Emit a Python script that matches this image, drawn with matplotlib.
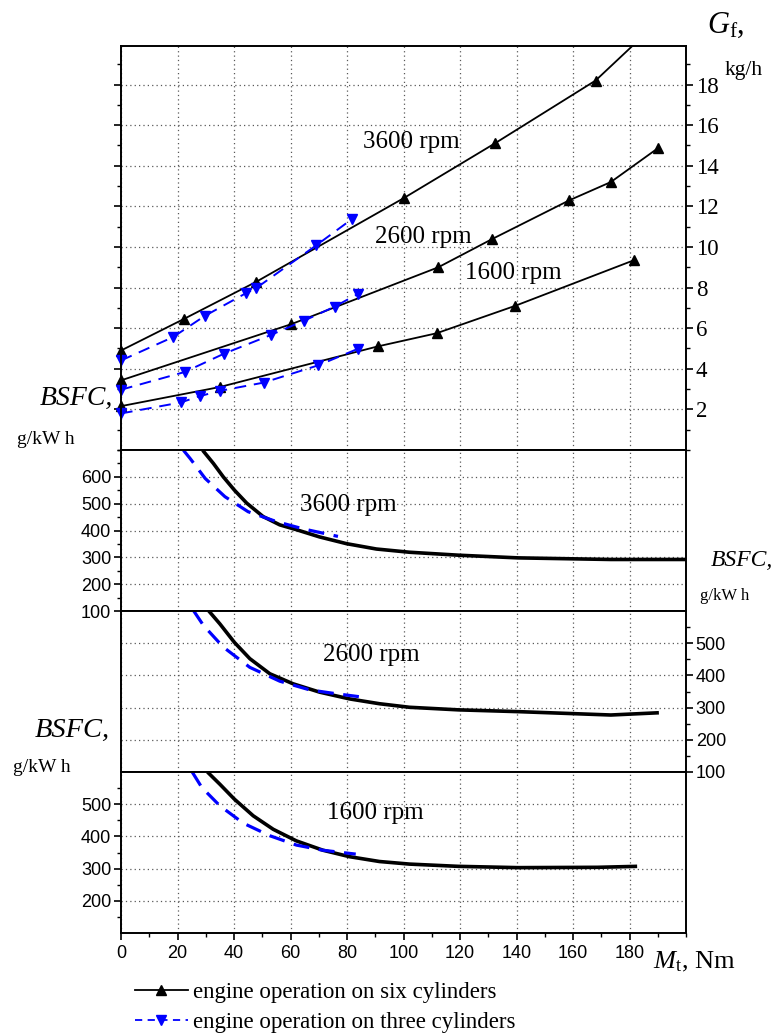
import matplotlib
matplotlib.use("Agg")
import matplotlib.pyplot as plt
from matplotlib.lines import Line2D
from matplotlib.ticker import MultipleLocator, FixedLocator

plt.rcParams['mathtext.fontset'] = 'custom'
plt.rcParams['mathtext.rm'] = 'Liberation Serif'
plt.rcParams['mathtext.it'] = 'Liberation Serif:italic'

SERIF = 'Liberation Serif'
SANS = 'Liberation Sans'

# ---------------- Fuel consumption Gf (kg/h) ----------------
# six cylinders
gf6_3600_x = [0, 22.2, 47.8, 100, 132.3, 168]
gf6_3600_y = [4.9, 6.45, 8.28, 12.4, 15.1, 18.2]
gf6_3600_end_x = [168, 181]          # curve continues past last point
gf6_3600_end_y = [18.2, 19.9]

gf6_2600_x = [0, 60.3, 112.3, 131.5, 158.7, 173.4, 190.1]
gf6_2600_y = [3.43, 6.2, 9.0, 10.4, 12.3, 13.2, 14.87]

gf6_1600_x = [0, 34.9, 90.8, 111.7, 139.5, 181.6]
gf6_1600_y = [2.16, 3.1, 5.1, 5.75, 7.1, 9.35]

# three cylinders
gf3_3600_x = [0, 18.4, 29.6, 44.3, 47.8, 69.1, 81.6]
gf3_3600_y = [4.41, 5.56, 6.6, 7.73, 7.97, 10.08, 11.36]

gf3_2600_x = [0, 22.5, 36.4, 53.1, 64.8, 75.6, 83.8]
gf3_2600_y = [2.97, 3.84, 4.74, 5.67, 6.37, 7.06, 7.68]

gf3_1600_x = [0, 21.1, 27.8, 34.9, 50.5, 69.8, 83.8]
gf3_1600_y = [1.8, 2.34, 2.65, 2.91, 3.32, 4.17, 4.98]

# ---------------- BSFC (g/kW h) ----------------
b6_3600_x = [28.9, 32.7, 36.2, 40.1, 44.5, 50.3, 56.2, 62.1, 70.3, 79.8, 90.4, 102.1, 119.4, 140.5, 173.4, 200]
b6_3600_y = [699, 650, 600, 551, 502, 452, 421, 403, 376, 351, 331, 319, 308, 298, 292, 292]
b3_3600_x = [22.1, 24.5, 29.8, 36.8, 45.0, 55.1, 64.5, 76.8]
b3_3600_y = [699, 668, 594, 526, 470, 433, 406, 378]

b6_2600_x = [30.9, 35.0, 40.1, 45.6, 52.7, 60.9, 70.3, 80.9, 91.5, 102.1, 119.4, 140.5, 173.4, 190.4]
b6_2600_y = [602, 560, 503, 452, 405, 374, 348, 327, 312, 301, 293, 287.5, 277, 284]
b3_2600_x = [25.6, 29.2, 36.2, 45.6, 56.2, 66.8, 76.2, 84.2]
b3_2600_y = [602, 555, 488, 425, 382, 355, 343, 334]

b6_1600_x = [30.6, 35.0, 40.1, 46.8, 53.9, 62.1, 71.5, 80.9, 91.5, 102.1, 119.4, 140.5, 168.7, 182.7]
b6_1600_y = [600, 562, 516, 464, 422, 386, 357, 337, 322, 314, 307, 303, 304, 307]
b3_1600_x = [25.2, 28.6, 35.0, 43.3, 52.7, 62.1, 71.5, 83.1]
b3_1600_y = [600, 552, 495, 441, 402, 373, 357, 345]

x_ticks = [0, 20, 40, 60, 80, 100, 120, 140, 160, 180]
gf_ticks = [2, 4, 6, 8, 10, 12, 14, 16, 18]

W, H = 780, 1034
fig = plt.figure(figsize=(W / 100, H / 100), dpi=100)

def rect(top_px, bot_px):
    return [121 / W, 1 - bot_px / H, (686 - 121) / W, (bot_px - top_px) / H]

ax1 = fig.add_axes(rect(46, 450))
ax2 = fig.add_axes(rect(450, 611))
ax3 = fig.add_axes(rect(611, 772))
ax4 = fig.add_axes(rect(772, 933))

BLUE = '#0000ff'
grid_kw = dict(color='0.35', linestyle=(0, (1, 2.5)), linewidth=0.9)

for ax in (ax1, ax2, ax3, ax4):
    ax.set_xlim(0, 200)
    for s in ax.spines.values():
        s.set_linewidth(1.4)
    ax.xaxis.set_major_locator(FixedLocator(x_ticks))
    ax.xaxis.set_minor_locator(MultipleLocator(10))
    ax.grid(True, which='major', **grid_kw)
    ax.set_axisbelow(True)
    ax.tick_params(which='major', length=5, width=1.2, direction='out')
    ax.tick_params(which='minor', length=3, width=1.0, direction='out')
    ax.tick_params(axis='x', which='both', bottom=False, top=False, labelbottom=False)

# ---- top panel
ax1.set_ylim(0, 19.9)
ax1.yaxis.set_major_locator(FixedLocator(gf_ticks))
ax1.yaxis.set_minor_locator(MultipleLocator(1))
ax1.tick_params(axis='y', which='both', left=True, right=True, labelleft=False, labelright=True)
ax1.tick_params(axis='y', which='major', pad=2)
for t in ax1.get_yticklabels():
    t.set_fontfamily(SERIF)
    t.set_fontsize(16.5)

mk6 = dict(color='black', lw=1.3, marker='^', ms=7, mfc='black', mec='black')
mk3 = dict(color=BLUE, lw=1.4, ls=(0, (6, 4)), marker='v', ms=7, mfc=BLUE, mec=BLUE)

ax1.plot(gf6_3600_end_x, gf6_3600_end_y, color='black', lw=1.3, clip_on=True)
ax1.plot(gf6_3600_x, gf6_3600_y, clip_on=False, **mk6)
ax1.plot(gf6_2600_x, gf6_2600_y, clip_on=False, **mk6)
ax1.plot(gf6_1600_x, gf6_1600_y, clip_on=False, **mk6)
ax1.plot(gf3_3600_x, gf3_3600_y, clip_on=False, **mk3)
ax1.plot(gf3_2600_x, gf3_2600_y, clip_on=False, **mk3)
ax1.plot(gf3_1600_x, gf3_1600_y, clip_on=False, **mk3)

rpm_kw = dict(fontfamily=SERIF, fontsize=18, ha='center', va='center')
ax1.text(102.8, 15.15, '3600 rpm', **rpm_kw)
ax1.text(107, 10.5, '2600 rpm', **rpm_kw)
ax1.text(138.7, 8.7, '1600 rpm', **rpm_kw)

# ---- BSFC panels
l6 = dict(color='black', lw=2.6, solid_capstyle='butt', solid_joinstyle='round')
l3 = dict(color=BLUE, lw=2.3, ls=(0, (5, 3)))

ax2.set_ylim(100, 700)
ax2.yaxis.set_major_locator(FixedLocator([100, 200, 300, 400, 500, 600]))
ax2.yaxis.set_minor_locator(MultipleLocator(50))
ax2.tick_params(axis='y', which='both', left=True, right=False, labelleft=True, labelright=False, pad=2)
ax2.plot(b6_3600_x, b6_3600_y, **l6)
ax2.plot(b3_3600_x, b3_3600_y, **l3)
ax2.text(80.5, 496, '3600 rpm', **rpm_kw)

ax3.set_ylim(100, 600)
ax3.yaxis.set_major_locator(FixedLocator([100, 200, 300, 400, 500]))
ax3.yaxis.set_minor_locator(FixedLocator([150, 250, 350, 450, 550]))
ax3.tick_params(axis='y', which='both', left=False, right=True, labelleft=False, labelright=True, pad=2)
ax3.plot(b6_2600_x, b6_2600_y, **l6)
ax3.plot(b3_2600_x, b3_2600_y, **l3)
ax3.text(88.6, 463, '2600 rpm', **rpm_kw)

ax4.set_ylim(100, 600)
ax4.yaxis.set_major_locator(FixedLocator([200, 300, 400, 500]))
ax4.yaxis.set_minor_locator(FixedLocator([150, 250, 350, 450, 550]))
ax4.tick_params(axis='y', which='both', left=True, right=False, labelleft=True, labelright=False, pad=2)
ax4.tick_params(axis='x', which='both', bottom=True, labelbottom=True)
ax4.set_xticks(x_ticks)
ax4.plot(b6_1600_x, b6_1600_y, **l6)
ax4.plot(b3_1600_x, b3_1600_y, **l3)
ax4.text(90, 474, '1600 rpm', **rpm_kw)

for ax in (ax2, ax3, ax4):
    for t in ax.get_yticklabels():
        t.set_fontfamily(SANS)
        t.set_fontsize(13)
for t in ax4.get_xticklabels():
    t.set_fontfamily(SANS)
    t.set_fontsize(13)

# hide grid lines that coincide with panel borders
for ax in (ax2, ax3):
    for gl, v in zip(ax.get_ygridlines(), ax.get_yticks()):
        if v == 100:
            gl.set_visible(False)

# ---- axis titles as figure text
def ftext(xp, yp, s, **kw):
    fig.text(xp / W, 1 - yp / H, s, **kw)

ftext(726, 25, r'$G_{\rm f}$,', fontfamily=SERIF, fontsize=22, ha='center', va='center')
ftext(744, 71, 'kg/h', fontfamily=SERIF, fontsize=15.5, ha='center', va='center')
ftext(76, 398, 'BSFC,', fontfamily=SERIF, style='italic', fontsize=20, ha='center', va='center')
ftext(46, 440, 'g/kW h', fontfamily=SERIF, fontsize=14, ha='center', va='center')
ftext(742, 560, 'BSFC,', fontfamily=SERIF, style='italic', fontsize=17, ha='center', va='center')
ftext(725, 596, 'g/kW h', fontfamily=SERIF, fontsize=12, ha='center', va='center')
ftext(72, 730, 'BSFC,', fontfamily=SERIF, style='italic', fontsize=20.5, ha='center', va='center')
ftext(42, 768, 'g/kW h', fontfamily=SERIF, fontsize=14, ha='center', va='center')
ftext(694, 962, r'$M_{\rm t}$, Nm', fontfamily=SERIF, fontsize=19, ha='center', va='center')

# ---- legend
handles = [
    Line2D([], [], color='black', lw=1.3, marker='^', ms=6.5, mfc='black', mec='black'),
    Line2D([], [], color=BLUE, lw=1.3, ls=(0, (4, 3)), marker='v', ms=6.5, mfc=BLUE, mec=BLUE),
]
labels = ['engine operation on six cylinders', 'engine operation on three cylinders']
fig.legend(handles, labels, loc='upper left', bbox_to_anchor=(135 / W, 1 - 982 / H),
           frameon=False, prop={'family': SERIF, 'size': 16.5}, handlelength=2.3,
           handletextpad=0.25, labelspacing=0.4, borderpad=0, borderaxespad=0)

fig.savefig('out.png', dpi=100)
